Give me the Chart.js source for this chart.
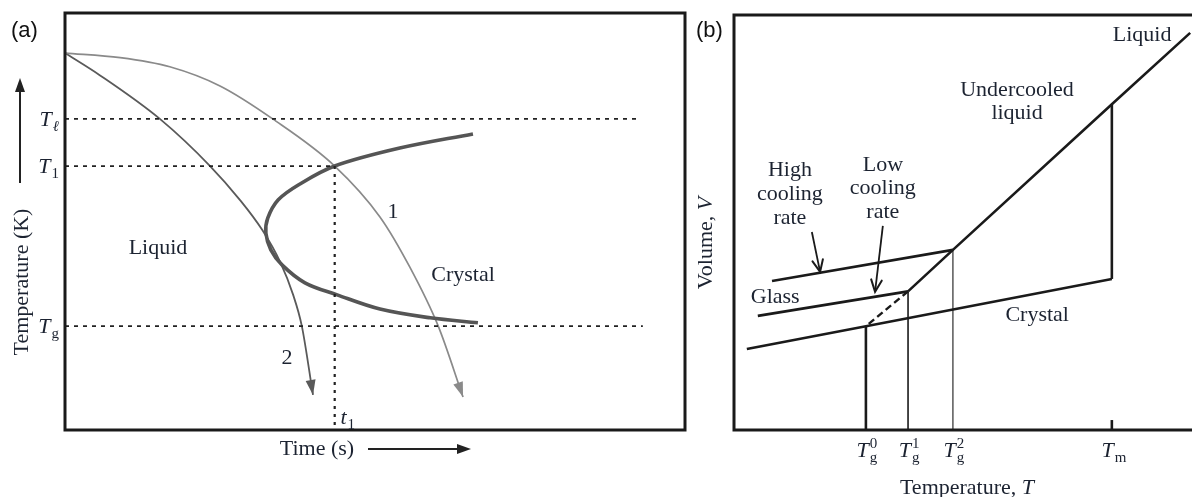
<!DOCTYPE html>
<html>
<head>
<meta charset="utf-8">
<script src="https://cdn.jsdelivr.net/npm/chart.js@4/dist/chart.umd.min.js"></script>
<style>
  html, body { margin: 0; padding: 0; background: #fff; }
  #wrap { position: relative; width: 1192px; height: 497px; overflow: hidden; background: #fff; }
  canvas { position: absolute; top: 0; }
  #ttt { left: 0; }
  #vt { left: 690px; }
</style>
</head>
<body>
<div id="wrap">
  <canvas id="ttt" width="690" height="497"></canvas>
  <canvas id="vt" width="502" height="497"></canvas>
</div>
<script>
// ---------- (a) cooling curves on a TTT diagram (time and temperature on 0–100 scales) ----------
const levelLiquidus = 74.6;   // T_l
const levelT1 = 63.3;         // T_1
const levelGlass = 24.9;      // T_g
const timeT1 = 43.5;          // t_1
const dashEndLiquidus = 92.7;
const dashEndGlass = 93.2;

// slow cooling path (1)
const coolingSlow = [[0, 90.4], [8.9, 89.3], [16.9, 87.1], [25.0, 82.5], [33.5, 74.6],
                     [43.5, 63.3], [50.8, 51.1], [55.6, 39.1], [60.2, 24.9], [64.2, 7.9]];
// fast cooling path (2)
const coolingFast = [[0, 90.4], [5.6, 85.1], [15.3, 74.6], [23.4, 63.3], [28.2, 55.2],
                     [31.8, 48.0], [34.7, 40.3], [36.8, 32.4], [38.2, 24.9], [40.0, 8.4]];
// crystallisation onset ("nose") curve
const noseCurve = [[65.8, 71.0], [54.0, 67.6], [43.5, 63.3], [37.9, 59.0], [34.4, 55.2],
                   [32.7, 50.8], [32.4, 47.2], [33.2, 43.2], [35.0, 39.6], [38.7, 35.3],
                   [43.9, 32.4], [50.8, 29.0], [58.9, 26.9], [66.6, 25.7]];

// ---------- (b) volume versus temperature (0–100 scales) ----------
const Tg0 = 28.8, Tg1 = 38.0, Tg2 = 47.8, Tm = 82.5;
const liquidLine  = [[Tg1, 33.4], [Tg2, 43.4], [Tm, 78.5], [99.6, 95.7]];
const crystalLine = [[2.8, 19.5], [Tg0, 25.0], [Tm, 36.4]];
const glassHigh   = [[8.3, 35.9], [Tg2, 43.4]];
const glassLow    = [[5.2, 27.5], [Tg1, 33.4]];
const slowLimit   = [[Tg1, 33.4], [Tg0, 25.0]];
const meltJump    = [[Tm, 36.4], [Tm, 78.5]];
const dropTg0     = [[Tg0, 0], [Tg0, 25.0]];
const dropTg1     = [[Tg1, 0], [Tg1, 33.4]];
const dropTg2     = [[Tg2, 0], [Tg2, 43.4]];
const tickTm      = [[Tm, 0], [Tm, 2.4]];
const pointerHigh = [[17.0, 47.7], [18.8, 38.1]];
const pointerLow  = [[32.5, 49.2], [30.8, 33.3]];

const ink = '#1a1a1a';
const textInk = '#1c2331';
const serif = '"Liberation Serif", "DejaVu Serif", serif';

const pts = a => a.map(([x, y]) => ({ x, y }));

function line(data, color, width, extra) {
  return Object.assign({
    data: pts(data), showLine: true, borderColor: color, borderWidth: width,
    pointRadius: 0, pointHoverRadius: 0, fill: false, tension: 0, clip: false
  }, extra || {});
}

function baseOptions(padding) {
  return {
    responsive: false, animation: false, events: [],
    layout: { padding },
    plugins: { legend: { display: false }, tooltip: { enabled: false } },
    scales: {
      x: { type: 'linear', min: 0, max: 100, display: false },
      y: { type: 'linear', min: 0, max: 100, display: false }
    }
  };
}

// arrow heads at the end of flagged datasets
const arrowHeads = {
  id: 'arrowHeads',
  afterDatasetsDraw(chart) {
    const ctx = chart.ctx;
    chart.data.datasets.forEach((ds, i) => {
      if (!ds.arrowHead) return;
      const els = chart.getDatasetMeta(i).data;
      const end = els[els.length - 1];
      let fx = els[els.length - 2].x, fy = els[els.length - 2].y;
      if (end.cp1x !== undefined && Math.hypot(end.cp1x - end.x, end.cp1y - end.y) > 1) {
        fx = end.cp1x; fy = end.cp1y;
      }
      const ang = Math.atan2(end.y - fy, end.x - fx);
      ctx.save();
      ctx.fillStyle = ds.borderColor; ctx.strokeStyle = ds.borderColor;
      if (ds.arrowHead === 'fill') {
        const L = 15, W = 5;
        const bx = end.x - L * Math.cos(ang), by = end.y - L * Math.sin(ang);
        ctx.beginPath();
        ctx.moveTo(end.x, end.y);
        ctx.lineTo(bx + W * Math.sin(ang), by - W * Math.cos(ang));
        ctx.lineTo(bx - W * Math.sin(ang), by + W * Math.cos(ang));
        ctx.closePath(); ctx.fill();
      } else {
        const L = 13, spread = 0.42;
        ctx.lineWidth = 2; ctx.lineCap = 'round';
        ctx.beginPath();
        ctx.moveTo(end.x - L * Math.cos(ang - spread), end.y - L * Math.sin(ang - spread));
        ctx.lineTo(end.x, end.y);
        ctx.lineTo(end.x - L * Math.cos(ang + spread), end.y - L * Math.sin(ang + spread));
        ctx.stroke();
      }
      ctx.restore();
    });
  }
};

// italic symbol with optional sub/superscript; align: 'right' or 'center'
function symbol(ctx, x, yMid, base, sub, sup, align, subItalic) {
  const big = 'italic 22px ' + serif;
  const small = (subItalic ? 'italic ' : '') + '15px ' + serif;
  ctx.font = big; const wB = ctx.measureText(base).width;
  ctx.font = small;
  const wS = Math.max(sub ? ctx.measureText(sub).width : 0, sup ? ctx.measureText(sup).width : 0);
  const total = wB + 1 + wS;
  const left = align === 'right' ? x - total : x - total / 2;
  const baseLine = yMid + 7;
  ctx.textAlign = 'left'; ctx.textBaseline = 'alphabetic';
  ctx.font = big; ctx.fillText(base, left, baseLine);
  ctx.font = small;
  if (sub) ctx.fillText(sub, left + wB + 1, baseLine + 5);
  if (sup) ctx.fillText(sup, left + wB + 1, baseLine - 9);
}

// centred text with an italic trailing symbol, e.g. "Volume, V"
function titleWithSymbol(ctx, x, y, text, sym) {
  const roman = '22px ' + serif, ital = 'italic 22px ' + serif;
  ctx.font = roman; const w1 = ctx.measureText(text).width;
  ctx.font = ital; const w2 = ctx.measureText(sym).width;
  const left = x - (w1 + w2) / 2;
  ctx.textAlign = 'left'; ctx.textBaseline = 'middle';
  ctx.font = roman; ctx.fillText(text, left, y);
  ctx.font = ital; ctx.fillText(sym, left + w1, y);
}

function arrowLine(ctx, x1, y1, x2, y2) {
  const ang = Math.atan2(y2 - y1, x2 - x1), L = 14, W = 5;
  const bx = x2 - L * Math.cos(ang), by = y2 - L * Math.sin(ang);
  ctx.beginPath(); ctx.moveTo(x1, y1); ctx.lineTo(bx, by); ctx.stroke();
  ctx.beginPath();
  ctx.moveTo(x2, y2);
  ctx.lineTo(bx + W * Math.sin(ang), by - W * Math.cos(ang));
  ctx.lineTo(bx - W * Math.sin(ang), by + W * Math.cos(ang));
  ctx.closePath(); ctx.fill();
}

const panelA = {
  id: 'panelA',
  afterDraw(chart) {
    const ctx = chart.ctx, a = chart.chartArea;
    const X = v => chart.scales.x.getPixelForValue(v);
    const Y = v => chart.scales.y.getPixelForValue(v);
    ctx.save();
    ctx.strokeStyle = ink; ctx.lineWidth = 3;
    ctx.strokeRect(a.left, a.top, a.right - a.left, a.bottom - a.top);

    ctx.fillStyle = '#111';
    ctx.font = '22px "Liberation Sans", "DejaVu Sans", sans-serif';
    ctx.textAlign = 'left'; ctx.textBaseline = 'middle';
    ctx.fillText('(a)', 11, 31);

    ctx.fillStyle = textInk;
    ctx.font = '22px ' + serif;
    ctx.textAlign = 'center'; ctx.textBaseline = 'middle';
    ctx.fillText('Liquid', X(15.0), Y(43.6));
    ctx.fillText('Crystal', X(64.2), Y(37.2));
    ctx.fillText('1', X(52.9), Y(52.3));
    ctx.fillText('2', X(35.8), Y(17.3));
    ctx.fillText('Time (s)', 317, 449);

    ctx.save();
    ctx.translate(22, 282); ctx.rotate(-Math.PI / 2);
    ctx.fillText('Temperature (K)', 0, 0);
    ctx.restore();

    symbol(ctx, a.left - 6, Y(levelLiquidus), 'T', 'ℓ', null, 'right', true);
    symbol(ctx, a.left - 6, Y(levelT1), 'T', '1', null, 'right', false);
    symbol(ctx, a.left - 6, Y(levelGlass), 'T', 'g', null, 'right', false);
    symbol(ctx, X(timeT1) + 13, a.bottom - 13, 't', '1', null, 'center', false);

    ctx.strokeStyle = '#222'; ctx.fillStyle = '#222'; ctx.lineWidth = 2;
    arrowLine(ctx, 20, 183, 20, 78);
    arrowLine(ctx, 368, 449, 471, 449);
    ctx.restore();
  }
};

const dotted = { borderDash: [4, 5] };
new Chart(document.getElementById('ttt'), {
  type: 'scatter',
  data: {
    datasets: [
      line([[0, levelLiquidus], [dashEndLiquidus, levelLiquidus]], '#222', 1.8, dotted),
      line([[0, levelT1], [timeT1, levelT1]], '#222', 1.8, dotted),
      line([[0, levelGlass], [dashEndGlass, levelGlass]], '#222', 1.8, dotted),
      line([[timeT1, levelT1], [timeT1, 0]], '#222', 2.2, { borderDash: [3, 5] }),
      line(noseCurve, '#555', 3.6, { tension: 0.35 }),
      line(coolingSlow, '#8a8a8a', 1.7, { cubicInterpolationMode: 'monotone', arrowHead: 'fill' }),
      line(coolingFast, '#5a5a5a', 1.8, { cubicInterpolationMode: 'monotone', arrowHead: 'fill' })
    ]
  },
  options: baseOptions({ left: 65, top: 13, right: 5, bottom: 67 }),
  plugins: [arrowHeads, panelA]
});

const panelB = {
  id: 'panelB',
  afterDraw(chart) {
    const ctx = chart.ctx, a = chart.chartArea;
    const X = v => chart.scales.x.getPixelForValue(v);
    const Y = v => chart.scales.y.getPixelForValue(v);
    ctx.save();
    ctx.strokeStyle = ink; ctx.lineWidth = 3; ctx.lineCap = 'square';
    ctx.beginPath();
    ctx.moveTo(chart.width, a.top); ctx.lineTo(a.left, a.top);
    ctx.lineTo(a.left, a.bottom); ctx.lineTo(chart.width, a.bottom);
    ctx.stroke();

    ctx.fillStyle = '#111';
    ctx.font = '22px "Liberation Sans", "DejaVu Sans", sans-serif';
    ctx.textAlign = 'left'; ctx.textBaseline = 'middle';
    ctx.fillText('(b)', 6, 31);

    ctx.fillStyle = textInk;
    ctx.font = '22px ' + serif;
    ctx.textAlign = 'center'; ctx.textBaseline = 'middle';
    ctx.fillText('Liquid', X(89.1), Y(95.2));
    ctx.fillText('Undercooled', X(61.8), Y(81.9));
    ctx.fillText('liquid', X(61.8), Y(76.4));
    ctx.fillText('High', X(12.2), Y(62.7));
    ctx.fillText('cooling', X(12.2), Y(56.8));
    ctx.fillText('rate', X(12.2), Y(51.1));
    ctx.fillText('Low', X(32.5), Y(63.9));
    ctx.fillText('cooling', X(32.5), Y(58.2));
    ctx.fillText('rate', X(32.5), Y(52.5));
    ctx.fillText('Glass', X(9.0), Y(32.0));
    ctx.fillText('Crystal', X(66.2), Y(27.7));
    titleWithSymbol(ctx, 277, 488, 'Temperature, ', 'T');

    ctx.save();
    ctx.translate(16, 243); ctx.rotate(-Math.PI / 2);
    titleWithSymbol(ctx, 0, 0, 'Volume, ', 'V');
    ctx.restore();

    const ty = a.bottom + 20;
    symbol(ctx, X(Tg0) + 1, ty, 'T', 'g', '0', 'center', false);
    symbol(ctx, X(Tg1) + 1, ty, 'T', 'g', '1', 'center', false);
    symbol(ctx, X(Tg2) + 1, ty, 'T', 'g', '2', 'center', false);
    symbol(ctx, X(Tm) + 2, ty, 'T', 'm', null, 'center', false);
    ctx.restore();
  }
};

new Chart(document.getElementById('vt'), {
  type: 'scatter',
  data: {
    datasets: [
      line(liquidLine, ink, 2.6),
      line(crystalLine, ink, 2.6),
      line(glassHigh, ink, 2.6),
      line(glassLow, ink, 2.6),
      line(slowLimit, ink, 2.4, { borderDash: [7, 4] }),
      line(meltJump, ink, 2.6),
      line(dropTg0, ink, 2.6),
      line(dropTg1, ink, 1.6),
      line(dropTg2, ink, 1.1),
      line(tickTm, ink, 2.6),
      line(pointerHigh, ink, 1.8, { arrowHead: 'open' }),
      line(pointerLow, ink, 1.8, { arrowHead: 'open' })
    ]
  },
  options: baseOptions({ left: 44, top: 15, right: 0, bottom: 67 }),
  plugins: [arrowHeads, panelB]
});
</script>
</body>
</html>
